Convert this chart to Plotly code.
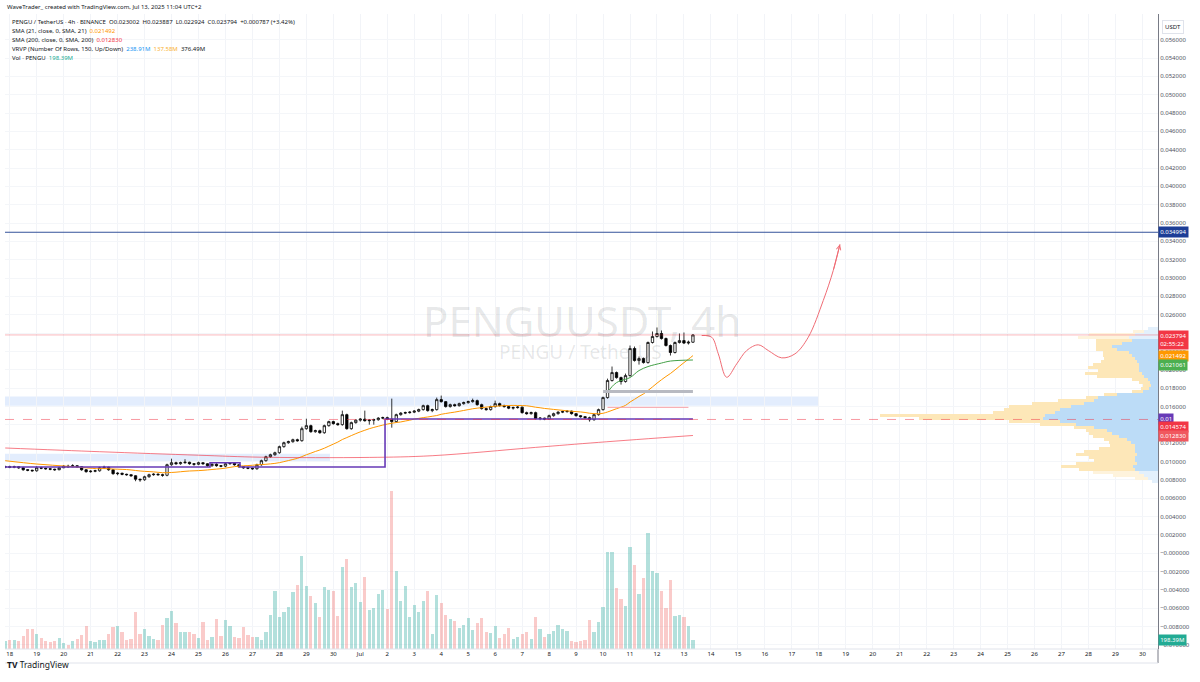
import pandas as pd
import plotly.graph_objects as go

FONT = "Noto Sans, Roboto, sans-serif"

# ---------------- data (PENGU/USDT 4h, times in UTC) ----------------
first_bar = "2025-06-17 20:00"
first_open = 0.00937

closes = [
    0.00942, 0.00937, 0.00942, 0.00931, 0.00909, 0.00904, 0.00898, 0.00931, 0.00926, 0.00920,
    0.00915, 0.00909, 0.00931, 0.00948, 0.00942, 0.00953, 0.00942, 0.00909, 0.00888, 0.00893,
    0.00898, 0.00931, 0.00937, 0.00909, 0.00866, 0.00871, 0.00860, 0.00855, 0.00844, 0.00806,
    0.00800, 0.00833, 0.00855, 0.00860, 0.00855, 0.00849, 0.00964, 0.00986, 0.00975, 0.00986,
    0.00991, 0.00975, 0.00969, 0.00986, 0.00975, 0.00953, 0.00969, 0.00953, 0.00948, 0.00975,
    0.00980, 0.00964, 0.00942, 0.00931, 0.00926, 0.00920, 0.00964, 0.01008, 0.01051, 0.01073,
    0.01095, 0.01161, 0.01204, 0.01215, 0.01237, 0.01226, 0.01357, 0.01390, 0.01324, 0.01335,
    0.01313, 0.01390, 0.01434, 0.01412, 0.01401, 0.01510, 0.01357, 0.01423, 0.01450, 0.01461,
    0.01444, 0.01450, 0.01455, 0.01472, 0.01477, 0.01461, 0.01434, 0.01510, 0.01527, 0.01532,
    0.01537, 0.01548, 0.01565, 0.01608, 0.01554, 0.01565, 0.01674, 0.01652, 0.01598, 0.01619,
    0.01608, 0.01630, 0.01641, 0.01652, 0.01663, 0.01619, 0.01576, 0.01565, 0.01598, 0.01630,
    0.01608, 0.01598, 0.01581, 0.01587, 0.01592, 0.01532, 0.01521, 0.01532, 0.01466, 0.01472,
    0.01461, 0.01499, 0.01521, 0.01537, 0.01543, 0.01548, 0.01521, 0.01499, 0.01488, 0.01477,
    0.01455, 0.01510, 0.01565, 0.01696, 0.01882, 0.01969, 0.01914, 0.01871, 0.01936, 0.02231,
    0.02100, 0.02122, 0.02078, 0.02297, 0.02362, 0.02395, 0.02340, 0.02264, 0.02188, 0.02297,
    0.02318, 0.02291, 0.023002, 0.023794,
]
highs = [
    0.00953, 0.00953, 0.00953, 0.00948, 0.00942, 0.00915, 0.00909, 0.00948, 0.00942, 0.00931,
    0.00926, 0.00920, 0.00942, 0.00959, 0.00964, 0.00969, 0.00959, 0.00948, 0.00915, 0.00904,
    0.00909, 0.00942, 0.00953, 0.00942, 0.00915, 0.00882, 0.00877, 0.00866, 0.00860, 0.00849,
    0.00811, 0.00844, 0.00866, 0.00871, 0.00871, 0.00866, 0.00975, 0.01030, 0.00997, 0.00997,
    0.01024, 0.00997, 0.00980, 0.00997, 0.00991, 0.00980, 0.00980, 0.00980, 0.00959, 0.00986,
    0.00991, 0.00986, 0.00969, 0.00948, 0.00942, 0.00931, 0.00975, 0.01019, 0.01062, 0.01084,
    0.01106, 0.01172, 0.01215, 0.01226, 0.01248, 0.01248, 0.01379, 0.01466, 0.01401, 0.01346,
    0.01346, 0.01401, 0.01444, 0.01444, 0.01423, 0.01554, 0.01521, 0.01434, 0.01461, 0.01472,
    0.01554, 0.01461, 0.01466, 0.01483, 0.01488, 0.01488, 0.01685, 0.01521, 0.01537, 0.01543,
    0.01548, 0.01559, 0.01576, 0.01619, 0.01619, 0.01576, 0.01696, 0.01718, 0.01658, 0.01630,
    0.01630, 0.01641, 0.01652, 0.01663, 0.01685, 0.01674, 0.01630, 0.01587, 0.01608, 0.01663,
    0.01641, 0.01619, 0.01608, 0.01598, 0.01603, 0.01598, 0.01543, 0.01543, 0.01543, 0.01483,
    0.01477, 0.01510, 0.01532, 0.01548, 0.01554, 0.01559, 0.01554, 0.01527, 0.01505, 0.01494,
    0.01488, 0.01521, 0.01576, 0.01707, 0.01903, 0.02035, 0.01980, 0.01925, 0.01958, 0.02264,
    0.02253, 0.02144, 0.02133, 0.02308, 0.02417, 0.02461, 0.02428, 0.02351, 0.02275, 0.02308,
    0.02395, 0.02406, 0.02318, 0.023887,
]
lows = [
    0.00926, 0.00926, 0.00926, 0.00920, 0.00898, 0.00893, 0.00888, 0.00888, 0.00915, 0.00909,
    0.00904, 0.00898, 0.00904, 0.00926, 0.00931, 0.00937, 0.00931, 0.00898, 0.00877, 0.00877,
    0.00882, 0.00888, 0.00920, 0.00898, 0.00855, 0.00849, 0.00849, 0.00844, 0.00833, 0.00784,
    0.00778, 0.00789, 0.00822, 0.00844, 0.00844, 0.00833, 0.00838, 0.00953, 0.00964, 0.00964,
    0.00975, 0.00964, 0.00953, 0.00959, 0.00964, 0.00942, 0.00942, 0.00942, 0.00937, 0.00937,
    0.00964, 0.00953, 0.00931, 0.00920, 0.00915, 0.00909, 0.00909, 0.00953, 0.00997, 0.01040,
    0.01062, 0.01084, 0.01150, 0.01193, 0.01204, 0.01215, 0.01215, 0.01346, 0.01313, 0.01313,
    0.01302, 0.01302, 0.01379, 0.01401, 0.01390, 0.01390, 0.01346, 0.01346, 0.01412, 0.01434,
    0.01434, 0.01401, 0.01401, 0.01444, 0.01461, 0.01450, 0.01368, 0.01423, 0.01499, 0.01516,
    0.01521, 0.01527, 0.01537, 0.01554, 0.01543, 0.01537, 0.01554, 0.01641, 0.01587, 0.01587,
    0.01598, 0.01598, 0.01619, 0.01630, 0.01641, 0.01608, 0.01565, 0.01554, 0.01554, 0.01587,
    0.01598, 0.01587, 0.01570, 0.01565, 0.01576, 0.01521, 0.01510, 0.01510, 0.01455, 0.01450,
    0.01450, 0.01455, 0.01488, 0.01510, 0.01527, 0.01532, 0.01510, 0.01488, 0.01477, 0.01466,
    0.01434, 0.01444, 0.01499, 0.01554, 0.01685, 0.01871, 0.01903, 0.01838, 0.01860, 0.01925,
    0.02089, 0.02056, 0.02067, 0.02067, 0.02286, 0.02351, 0.02329, 0.02253, 0.02155, 0.02177,
    0.02286, 0.02280, 0.02275, 0.022924,
]
volumes_m = [
    171, 192, 192, 164, 284, 427, 427, 320, 235, 177, 156, 164, 228, 128, 92, 177, 207, 299,
    484, 164, 156, 198, 192, 320, 463, 497, 356, 192, 213, 783, 320, 427, 284, 213, 192, 518,
    661, 817, 555, 356, 356, 369, 320, 235, 570, 192, 250, 640, 284, 619, 484, 262, 228, 463,
    299, 262, 262, 198, 369, 732, 1231, 689, 783, 889, 1222, 1372, 1977, 1350, 1124, 975, 676,
    1329, 1258, 1231, 704, 1743, 1920, 1329, 1408, 996, 1529, 832, 868, 1173, 1258, 853, 3377,
    1670, 1017, 1337, 676, 945, 796, 1030, 1231, 320, 1152, 981, 732, 640, 591, 442, 518, 661,
    412, 548, 661, 356, 341, 497, 235, 320, 442, 213, 262, 320, 356, 213, 689, 427, 250, 320,
    390, 518, 427, 390, 164, 156, 177, 192, 619, 356, 570, 889, 2075, 2063, 1301, 1067, 924,
    2169, 1798, 1173, 1514, 2474, 1670, 1621, 1231, 875, 1472, 697, 725, 676, 497, 198.39,
]

sma21_head_bars = [0, 7, 14]
sma21_head = [0.010077, 0.009716, 0.009465]
sma200_bars = [0, 21, 43, 57, 81, 95, 118, 132, 153]
sma200 = [0.011464, 0.011059, 0.010677, 0.010459, 0.010437, 0.010622, 0.011530, 0.012076, 0.012830]
vwap_bars = [134, 135, 136, 137, 139, 141, 143, 146, 148, 153]
vwap = [0.017505, 0.018160, 0.018597, 0.018816, 0.019144, 0.019909, 0.020345, 0.020728, 0.020946, 0.021061]

# visible-range volume profile (row price, up volume, down volume; relative units)
vrvp_price = [
    0.02450, 0.02417, 0.02384, 0.02351, 0.02319, 0.02286, 0.02253, 0.02220, 0.02188, 0.02155,
    0.02122, 0.02089, 0.02056, 0.02024, 0.01991, 0.01958, 0.01925, 0.01893, 0.01860, 0.01827,
    0.01794, 0.01761, 0.01729, 0.01696, 0.01663, 0.01630, 0.01598, 0.01565, 0.01532, 0.01499,
    0.01466, 0.01434, 0.01401, 0.01368, 0.01335, 0.01303, 0.01270, 0.01237, 0.01204, 0.01172,
    0.01139, 0.01106, 0.01073, 0.01040, 0.01008, 0.00975, 0.00942, 0.00909, 0.00876, 0.00844,
    0.00811, 0.00778,
]
vrvp_up = [
    10, 14, 22, 28, 25, 35, 45, 40, 28, 25, 22, 20, 18, 18, 18, 16, 14, 10, 8, 7,
    9, 15, 40, 58, 62, 72, 85, 95, 100, 110, 112, 95, 80, 62, 50, 45, 38, 30, 26, 22,
    22, 22, 20, 22, 22, 20, 24, 22, 18, 14, 10, 6,
]
vrvp_down = [
    0, 10, 45, 50, 35, 25, 15, 20, 25, 28, 30, 35, 45, 50, 40, 55, 45, 15, 10, 8,
    8, 10, 12, 12, 35, 50, 60, 55, 60, 160, 120, 50, 35, 20, 20, 22, 25, 22, 22, 25,
    35, 50, 60, 45, 40, 60, 70, 55, 45, 30, 12, 0,
]
va_low, va_high = 0.0088, 0.0232

# projection drawn by the author
proj_times = ["2025-07-13 15:47", "2025-07-14 00:42", "2025-07-14 06:34", "2025-07-14 14:02",
              "2025-07-14 22:57", "2025-07-15 07:50", "2025-07-15 18:10", "2025-07-16 03:04",
              "2025-07-16 14:58", "2025-07-17 02:48", "2025-07-17 14:38", "2025-07-18 03:59",
              "2025-07-18 12:53", "2025-07-18 18:50"]
proj_prices = [0.023732, 0.023546, 0.021733, 0.019177, 0.020640, 0.022093, 0.022716, 0.022093,
               0.021295, 0.021733, 0.023546, 0.027555, 0.030832, 0.033673]

# horizontal levels / zones
target_level = 0.034994
last_price = 0.023794
dashed_level = 0.014574
grey_level = 0.017614
pink_level = 0.015899
zone_hi = (0.016085, 0.017068)
zone_lo = (0.009967, 0.010841)
step_times = ["2025-06-17 19:49", "2025-06-25 10:15", "2025-06-25 10:15", "2025-06-26 12:56",
              "2025-06-26 12:56", "2025-07-01 22:00", "2025-07-01 22:00", "2025-07-13 08:00"]
step_prices = [0.009388, 0.009388, 0.009858, 0.009858, 0.009388, 0.009388, 0.014632, 0.014632]

x_left, x_right = "2025-06-17 19:49", "2025-07-30 13:51"
day_ticks = pd.date_range("2025-06-18", "2025-07-30", freq="D")
day_labels = ["Jul" if d.day == 1 and d.month == 7 else str(d.day) for d in day_ticks]
price_ticks = [round(-0.010 + 0.002 * k, 3) for k in range(34)]
price_tick_labels = ["\u22120.010000", "\u22120.008000", "\u22120.006000", "\u22120.004000",
                     "\u22120.002000", "\u22120.000000"] + ["%.6f" % v for v in price_ticks[6:]]
hidden_ticks = [0.014, 0.024]   # fully covered by the price tags on the original
price_tick_labels = ["" if v in hidden_ticks else t for v, t in zip(price_ticks, price_tick_labels)]

# ---------------- figure ----------------
bar_times = pd.date_range(first_bar, periods=len(closes), freq="4h")
opens = [first_open] + closes[:-1]
rising = [c >= o for o, c in zip(opens, closes)]

fig = go.Figure()

# volume profile (longest row ~24% of the pane width)
max_row = max(u + d for u, d in zip(vrvp_up, vrvp_down))
row_h = vrvp_price[0] - vrvp_price[1]
in_va = [va_low <= p <= va_high for p in vrvp_price]
fig.add_trace(go.Bar(y=vrvp_price, x=vrvp_up, orientation="h", xaxis="x2", yaxis="y",
                     width=row_h * 0.9, hoverinfo="skip",
                     marker=dict(color=["#bcdcf7" if v else "#e3f0fc" for v in in_va], line=dict(width=0))))
fig.add_trace(go.Bar(y=vrvp_price, x=vrvp_down, base=vrvp_up, orientation="h", xaxis="x2", yaxis="y",
                     width=row_h * 0.9, hoverinfo="skip",
                     marker=dict(color=["#fde7b8" if v else "#fef3dc" for v in in_va], line=dict(width=0))))

# volume
fig.add_trace(go.Bar(x=bar_times, y=volumes_m, yaxis="y2", width=4 * 3600 * 1000 * 0.72,
                     hoverinfo="skip",
                     marker=dict(color=["rgba(38,166,154,0.35)" if r else "rgba(239,83,80,0.30)" for r in rising],
                                 line=dict(width=0))))

# moving averages
s21 = pd.Series(closes).rolling(21).mean()
sma21_x = [bar_times[i] for i in sma21_head_bars] + list(bar_times[20:])
sma21_y = sma21_head + list(s21[20:])
fig.add_trace(go.Scatter(x=sma21_x, y=sma21_y, mode="lines", line=dict(color="#ff9800", width=1, shape="spline")))
fig.add_trace(go.Scatter(x=[bar_times[i] for i in sma200_bars], y=sma200, mode="lines",
                         line=dict(color="rgba(242,54,69,0.65)", width=1, shape="spline")))
fig.add_trace(go.Scatter(x=[bar_times[i] for i in vwap_bars], y=vwap, mode="lines",
                         line=dict(color="#43a047", width=1, shape="spline")))

# drawings
fig.add_trace(go.Scatter(x=step_times, y=step_prices, mode="lines", line=dict(color="#673ab7", width=1.6)))
fig.add_trace(go.Scatter(x=[bar_times[133], bar_times[153]], y=[grey_level, grey_level], mode="lines",
                         line=dict(color="#b8bac2", width=3)))
fig.add_trace(go.Scatter(x=[bar_times[134], bar_times[152]], y=[pink_level, pink_level], mode="lines",
                         line=dict(color="#f7a1a7", width=1)))

fig.add_trace(go.Candlestick(
    x=bar_times, open=opens, high=highs, low=lows, close=closes, whiskerwidth=0,
    increasing=dict(line=dict(color="#000000", width=0.8), fillcolor="#ffffff"),
    decreasing=dict(line=dict(color="#000000", width=0.8), fillcolor="#000000"),
    hoverinfo="skip"))

fig.add_trace(go.Scatter(x=proj_times, y=proj_prices, mode="lines",
                         line=dict(color="#f06c75", width=1, shape="spline", smoothing=1.0)))

shapes = [
    dict(type="rect", xref="x", yref="y", x0=x_left, x1="2025-07-18 00:00", y0=zone_hi[0], y1=zone_hi[1],
         fillcolor="rgba(66,133,244,0.15)", line=dict(width=0), layer="below"),
    dict(type="rect", xref="x", yref="y", x0=x_left, x1="2025-06-29 21:00", y0=zone_lo[0], y1=zone_lo[1],
         fillcolor="rgba(66,133,244,0.15)", line=dict(width=0), layer="below"),
    dict(type="line", xref="paper", yref="y", x0=0, x1=1, y0=target_level, y1=target_level,
         line=dict(color="#34539a", width=1)),
    dict(type="line", xref="paper", yref="y", x0=0, x1=1, y0=last_price, y1=last_price,
         line=dict(color="rgba(242,54,69,0.35)", width=1)),
    dict(type="line", xref="paper", yref="y", x0=0, x1=1, y0=dashed_level, y1=dashed_level,
         line=dict(color="rgba(242,54,69,0.5)", width=1, dash="dash")),
    dict(type="line", xref="paper", yref="paper", x0=1, x1=1, y0=0, y1=-14 / 635,
         line=dict(color="#787b86", width=1)),
    dict(type="line", xref="paper", yref="paper", x0=0, x1=1, y0=0, y1=0,
         line=dict(color="#e0e3eb", width=1)),
    dict(type="line", xref="paper", yref="paper", x0=0, x1=1, y0=-14 / 635, y1=-14 / 635,
         line=dict(color="#e0e3eb", width=1)),
]


def px(x):
    return (x - 5) / 1153


def py(y):
    return (649 - y) / 635


ann = []
# header + legend
ann.append(dict(x=px(5), y=py(7), text="WaveTrader_ created with TradingView.com, Jul 13, 2025 11:04 UTC+2"))
legend_lines = [
    "PENGU / TetherUS \u00b7 4h \u00b7 BINANCE  O0.023002  H0.023887  L0.022924  C0.023794  +0.000787 (+3.42%)",
    "SMA (21, close, 0, SMA, 21)  <span style='color:#ff9800'>0.021492</span>",
    "SMA (200, close, 0, SMA, 200)  <span style='color:#f23645'>0.012830</span>",
    "VRVP (Number Of Rows, 150, Up/Down)  <span style='color:#2196f3'>238.91M</span>  "
    "<span style='color:#f9b233'>137.58M</span>  376.49M",
    "Vol \u00b7 PENGU  <span style='color:#22ab94'>198.39M</span>",
]
for k, t in enumerate(legend_lines):
    ann.append(dict(x=px(10), y=py(22.3 + 8.8 * k), text=t))
for a in ann:
    a.update(xref="paper", yref="paper", xanchor="left", yanchor="middle", showarrow=False,
             font=dict(family=FONT, size=6, color="#131722"))

# watermark
ann.append(dict(xref="paper", yref="paper", x=px(582), y=py(320), text="PENGUUSDT, 4h", showarrow=False,
                font=dict(family=FONT, size=42, color="rgba(19,23,34,0.11)")))
ann.append(dict(xref="paper", yref="paper", x=px(580), y=py(352), text="PENGU / TetherUS", showarrow=False,
                font=dict(family=FONT, size=19, color="rgba(19,23,34,0.11)")))

# arrowhead of projection
ann.append(dict(xref="x", yref="y", axref="x", ayref="y", x=proj_times[-1], y=proj_prices[-1],
                ax=proj_times[-2], ay=proj_prices[-2], text="", showarrow=True, arrowhead=5,
                arrowsize=0.9, arrowwidth=1, arrowcolor="#f06c75"))

# price-scale labels
tags = [
    (target_level, "0.034994", "#1c3d96", 0, "y"),
    (last_price, "0.023794<br>02:55:22", "#f23645", -5.5, "y"),
    (0.021492, "0.021492", "#ff9800", 0, "y"),
    (0.021061, "0.021061", "#4caf50", -4.7, "y"),
    (0.014632, "0.01", "#673ab7", 0, "y"),
    (dashed_level, "0.014574", "#f23645", -8, "y"),
    (0.012830, "0.012830", "#f0585f", -1, "y"),
    (198.39, "198.39M", "#22ab94", 0, "y2"),
]
for val, txt, col, shift, yr in tags:
    ann.append(dict(xref="paper", yref=yr, x=1, y=val, xanchor="left", yanchor="middle", yshift=shift,
                    text=txt, showarrow=False, bgcolor=col, borderpad=1.2, align="left",
                    font=dict(family=FONT, size=6, color="#ffffff")))
ann.append(dict(xref="paper", yref="paper", x=1, y=py(20), xanchor="left", xshift=4, text="USDT",
                showarrow=False, bordercolor="#e0e3eb", borderwidth=1, borderpad=2,
                font=dict(family=FONT, size=6, color="#131722")))
ann.append(dict(xref="paper", yref="paper", x=px(5), y=py(672), xanchor="left", showarrow=False,
                text="<b>TV</b> TradingView", font=dict(family=FONT, size=8.5, color="#131722")))

fig.update_layout(
    width=1200, height=682, margin=dict(l=5, r=42, t=14, b=33, autoexpand=False),
    paper_bgcolor="white", plot_bgcolor="white", showlegend=False,
    barmode="overlay", bargap=0, boxgap=0.25,
    xaxis=dict(type="date", range=[x_left, x_right], tickvals=day_ticks, ticktext=day_labels,
               showgrid=True, gridcolor="#f2f4f8", ticks="", zeroline=False, automargin=False,
               tickfont=dict(family=FONT, size=6, color="#131722"), showline=False,
               rangeslider=dict(visible=False)),
    xaxis2=dict(overlaying="x", range=[max_row / 0.241, 0], visible=False),
    yaxis=dict(side="right", range=[-0.01046, 0.05880], tickvals=price_ticks, ticktext=price_tick_labels,
               showgrid=True, gridcolor="#f4f6f9", zeroline=False, ticks="", showline=True, automargin=False,
               linecolor="#787b86", tickfont=dict(family=FONT, size=6, color="#50535e")),
    yaxis2=dict(overlaying="y", range=[0, 13545], visible=False),
    shapes=shapes, annotations=ann,
)

fig.write_html("out.html", config={"displayModeBar": False},
               post_script="document.body.style.margin='0';document.body.style.overflow='hidden';")
